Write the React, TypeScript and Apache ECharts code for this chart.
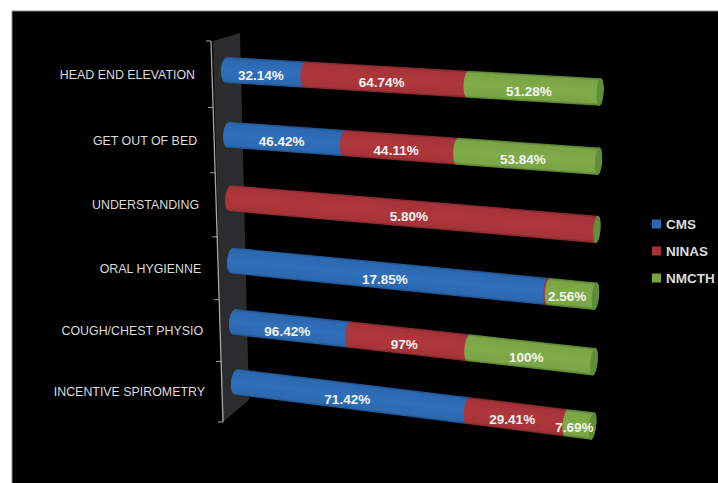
import React, { useEffect, useRef } from "react";
import * as echarts from "echarts";

const categories = [
  "HEAD END ELEVATION",
  "GET OUT OF BED",
  "UNDERSTANDING",
  "ORAL HYGIENNE",
  "COUGH/CHEST PHYSIO",
  "INCENTIVE SPIROMETRY",
];
const seriesNames = ["CMS", "NINAS", "NMCTH"];
const cmsValues = [32.14, 46.42, 0, 17.85, 96.42, 71.42];
const ninasValues = [64.74, 44.11, 5.8, 0.1, 97, 29.41];
const nmcthValues = [51.28, 53.84, 0, 2.56, 100, 7.69];

const FONT = '"Liberation Sans", Arial, sans-serif';
const G = { left: 100, top: 60, width: 500, height: 360 };
const palette = [
  { dark: "#1f4f8a", mid: "#2b68b0", light: "#3070ba" },
  { dark: "#7d2629", mid: "#a63338", light: "#ad383c" },
  { dark: "#527a30", mid: "#7aa545", light: "#80ab49" },
];
const capColor = "#5f8d38";

const persp = (v: number, m: number) => v / (v + m * (1 - v));
const lerp = (a: number, b: number, t: number) => a + (b - a) * t;

// maps the plain grid rectangle onto the receding plane the bars lie on
function project(px: number, py: number) {
  const u = persp((px - G.left) / G.width, 1.035);
  const s = persp((py - G.top) / G.height, 0.945);
  const lx = lerp(225.45, 237.45, s);
  const rx = lerp(600.8, 591.8, s);
  const ly = lerp(37.1, 411.6, s);
  const ry = lerp(56.8, 457.7, s);
  return { x: lerp(lx, rx, u), y: lerp(ly, ry, u), u };
}
// front edge of the wall, where the ticks sit
function front(v: number) {
  const s = persp(v, 0.945);
  return { x: lerp(211, 223, s), y: lerp(41, 422, s) };
}

function ellipseArc(c: any, t: any, n: any, rx: number, h: number, from: number, to: number, steps = 14) {
  const pts: number[][] = [];
  for (let k = 0; k <= steps; k++) {
    const a = from + ((to - from) * k) / steps;
    pts.push([
      c.x + t.x * rx * Math.cos(a) + n.x * h * Math.sin(a),
      c.y + t.y * rx * Math.cos(a) + n.y * h * Math.sin(a),
    ]);
  }
  return pts;
}

function segmentSeries(j: number, name: string) {
  const all = [cmsValues, ninasValues, nmcthValues];
  const data = categories.map((_, i) => {
    const total = all[0][i] + all[1][i] + all[2][i];
    let before = 0;
    for (let q = 0; q < j; q++) before += all[q][i];
    return [(before / total) * 100, ((before + all[j][i]) / total) * 100, i, all[j][i]];
  });
  return {
    type: "custom",
    name,
    coordinateSystem: "cartesian2d",
    itemStyle: { color: palette[j].mid },
    encode: { x: [0, 1], y: 2 },
    z: 3 + j,
    data,
    renderItem: (_: any, api: any) => {
      const a0 = api.coord([api.value(0), api.value(2)]);
      const a1 = api.coord([api.value(1), api.value(2)]);
      const val = api.value(3);
      const p0 = project(a0[0], a0[1]);
      const p1 = project(a1[0], a1[1]);
      const rowL = project(G.left, a0[1]);
      const rowR = project(G.left + G.width, a0[1]);
      const dx = rowR.x - rowL.x;
      const dy = rowR.y - rowL.y;
      const len = Math.hypot(dx, dy);
      const t = { x: dx / len, y: dy / len };
      const n = { x: -dy / len, y: dx / len };
      const h = (u: number) => 13 + 0.8 * u;
      const r = (u: number) => 5.5 - 2 * u;
      const children: any[] = [];
      if (val > 0) {
        const pts = [
          ...ellipseArc(p1, t, n, r(p1.u), h(p1.u), -Math.PI / 2, Math.PI / 2),
          ...ellipseArc(p0, t, n, r(p0.u), h(p0.u), Math.PI / 2, (3 * Math.PI) / 2),
        ];
        const c = palette[j];
        const mx = (p0.x + p1.x) / 2;
        const my = (p0.y + p1.y) / 2;
        const hh = h(p1.u);
        children.push({
          type: "polygon",
          shape: { points: pts },
          style: {
            fill: {
              type: "linear",
              global: true,
              x: mx - n.x * hh,
              y: my - n.y * hh,
              x2: mx + n.x * hh,
              y2: my + n.y * hh,
              colorStops: [
                { offset: 0, color: c.dark },
                { offset: 0.1, color: c.mid },
                { offset: 0.5, color: c.light },
                { offset: 0.9, color: c.mid },
                { offset: 1, color: c.dark },
              ],
            },
          },
        });
      }
      if (j === 2) {
        const end = project(G.left + G.width, a0[1]);
        children.push({
          type: "polygon",
          shape: { points: ellipseArc(end, t, n, r(1), h(1), 0, Math.PI * 2, 32) },
          style: { fill: capColor },
        });
      }
      if (val >= 1) {
        const text = (Number.isInteger(val) ? String(val) : val.toFixed(2)) + "%";
        children.push({
          type: "text",
          z2: 10,
          style: {
            x: (p0.x + p1.x) / 2 - 5,
            y: (p0.y + p1.y) / 2 + 3,
            text,
            fill: "#f4f4f4",
            fontFamily: FONT,
            fontWeight: "bold",
            fontSize: 13.5,
            align: "center",
            verticalAlign: "middle",
          },
        });
      }
      return { type: "group", children };
    },
  };
}

function axisSeries() {
  return {
    type: "custom",
    name: "axis",
    coordinateSystem: "cartesian2d",
    encode: { x: 0, y: 1 },
    z: 2,
    silent: true,
    data: categories.map((_, i) => [0, i]),
    renderItem: (_: any, api: any) => {
      const i = api.value(1);
      const c = api.coord([0, i]);
      const band = G.height / categories.length;
      const v0 = (c[1] - band / 2 - G.top) / G.height;
      const v1 = (c[1] + band / 2 - G.top) / G.height;
      const vm = (front(v0).y + front(v1).y) / 2;
      const xm = (front(v0).x + front(v1).x) / 2;
      const children: any[] = [];
      if (i === 0) {
        const a = front(0);
        const b = front(1);
        children.push({
          type: "polygon",
          shape: { points: [[a.x + 2, a.y], [240, 33], [249, 400], [b.x, b.y]] },
          style: { fill: "#2a2c2e" },
        });
        children.push({
          type: "line",
          shape: { x1: a.x, y1: a.y, x2: b.x, y2: b.y },
          style: { stroke: "#a8a8a8", lineWidth: 1.3 },
        });
      }
      const tickAt = (v: number) => {
        const p = front(v);
        children.push({
          type: "line",
          shape: { x1: p.x - 5, y1: p.y, x2: p.x, y2: p.y },
          style: { stroke: "#a8a8a8", lineWidth: 1 },
        });
      };
      tickAt(v0);
      if (i === categories.length - 1) tickAt(v1);
      children.push({
        type: "text",
        style: {
          x: xm - 17,
          y: vm + 0.5,
          text: categories[i],
          fill: "#dcdcdc",
          fontFamily: FONT,
          fontSize: 12.4,
          align: "right",
          verticalAlign: "middle",
        },
      });
      return { type: "group", children };
    },
  };
}

export default function App() {
  const ref = useRef<HTMLDivElement>(null);
  useEffect(() => {
    document.body.style.margin = "0";
    const chart = echarts.init(ref.current!, undefined, { renderer: "svg" });
    chart.setOption({
      animation: false,
      backgroundColor: "#ffffff",
      grid: { left: G.left, top: G.top, width: G.width, height: G.height },
      xAxis: { type: "value", min: 0, max: 100, show: false },
      yAxis: { type: "category", data: categories, inverse: true, show: false },
      legend: {
        orient: "vertical",
        left: 652,
        top: 217,
        padding: 0,
        itemWidth: 9,
        itemHeight: 9,
        itemGap: 13,
        icon: "rect",
        selectedMode: false,
        data: seriesNames,
        textStyle: { color: "#dcdcdc", fontFamily: FONT, fontWeight: "bold", fontSize: 13.5 },
      },
      graphic: [
        {
          type: "rect",
          z: -10,
          silent: true,
          shape: { x: 12, y: 11, width: 720, height: 490 },
          style: { fill: "#000000", stroke: "#8a8a8a", lineWidth: 1 },
        },
      ],
      series: [axisSeries(), ...seriesNames.map((n, j) => segmentSeries(j, n))],
    });
    return () => chart.dispose();
  }, []);
  return <div ref={ref} style={{ width: 718, height: 483 }} />;
}
